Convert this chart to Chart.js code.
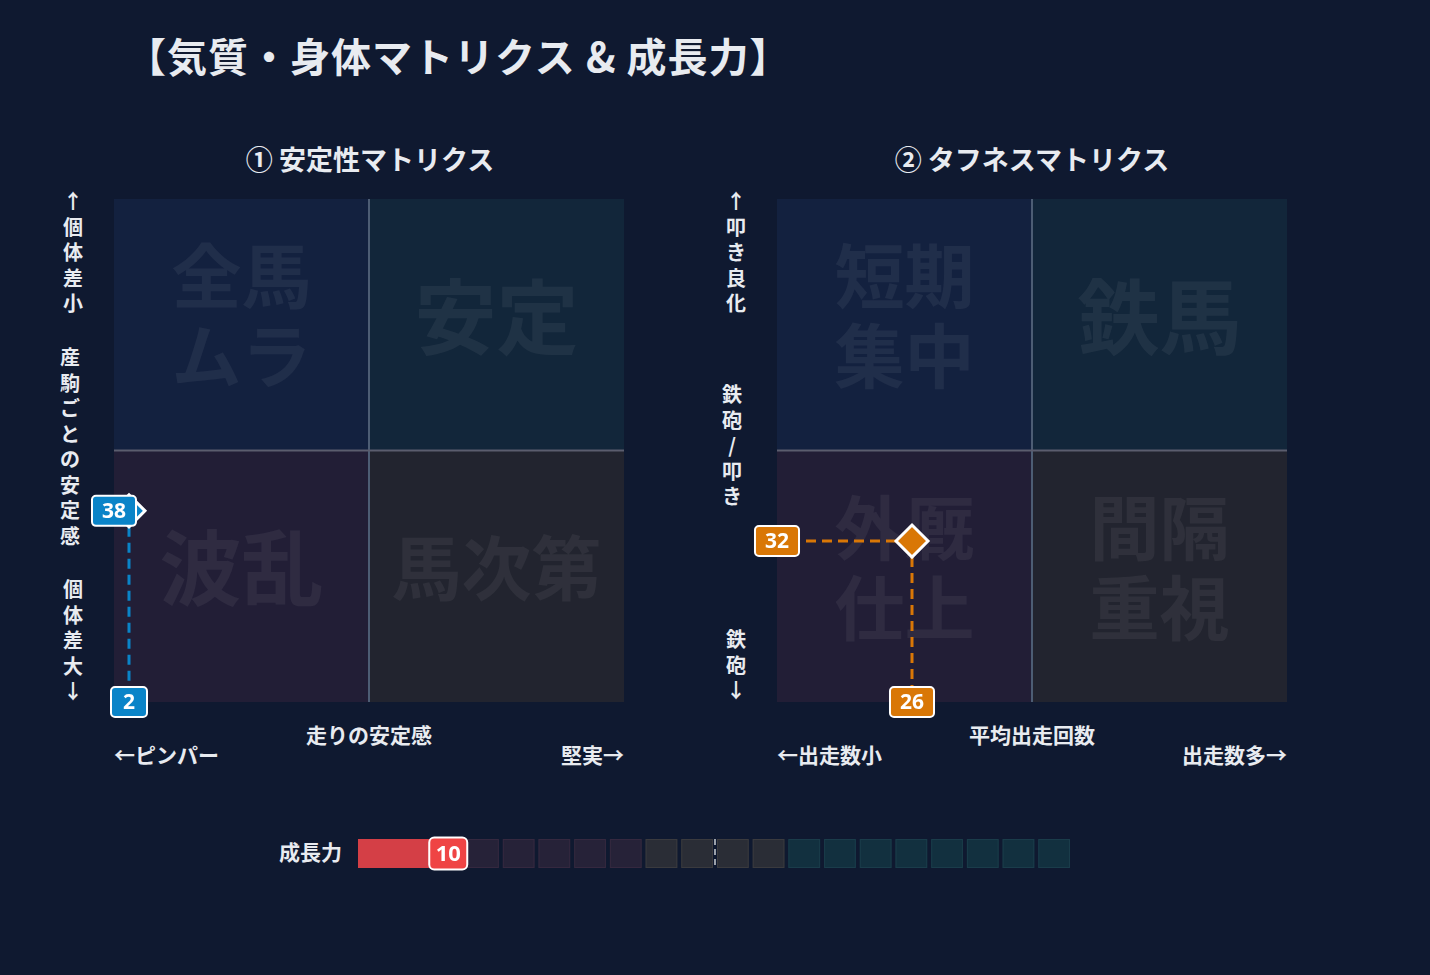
<!DOCTYPE html>
<html><head><meta charset="utf-8">
<script src="https://cdn.jsdelivr.net/npm/chart.js@4"></script>
<style>
body{margin:0;width:1430px;height:975px;background:#0f1930;font-family:"Noto Sans CJK JP","Noto Sans",sans-serif;color:#e8ebf0;position:relative;overflow:hidden}
.t{position:absolute;font-weight:700;white-space:nowrap}
.v{position:absolute;font-weight:700;font-size:20px;line-height:25.5px;text-align:center;width:30px}
canvas{position:absolute}
</style></head><body>
<div class="t" style="left:126px;top:26px;font-size:40px;letter-spacing:1px">【気質・身体マトリクス &amp; 成長力】</div>
<div class="t" style="left:370px;top:139px;font-size:27px;transform:translateX(-50%)">① 安定性マトリクス</div>
<div class="t" style="left:1032px;top:139px;font-size:27px;transform:translateX(-50%)">② タフネスマトリクス</div>
<div class="v" style="left:58px;top:188px">↑<br>個<br>体<br>差<br>小</div>
<div class="v" style="left:55px;top:344px">産<br>駒<br>ご<br>と<br>の<br>安<br>定<br>感</div>
<div class="v" style="left:58px;top:576px">個<br>体<br>差<br>大<br>↓</div>
<div class="v" style="left:721px;top:188px">↑<br>叩<br>き<br>良<br>化</div>
<div class="v" style="left:717px;top:381px">鉄<br>砲<br>/<br>叩<br>き</div>
<div class="v" style="left:721px;top:626px">鉄<br>砲<br>↓</div>
<div class="t" style="left:369px;top:719px;font-size:21px;transform:translateX(-50%)">走りの安定感</div>
<div class="t" style="left:114px;top:739px;font-size:21px">←ピンパー</div>
<div class="t" style="left:624px;top:739px;font-size:21px;transform:translateX(-100%)">堅実→</div>
<div class="t" style="left:1032px;top:719px;font-size:21px;transform:translateX(-50%)">平均出走回数</div>
<div class="t" style="left:777px;top:739px;font-size:21px">←出走数小</div>
<div class="t" style="left:1287px;top:739px;font-size:21px;transform:translateX(-100%)">出走数多→</div>
<div class="t" style="left:279px;top:836px;font-size:21px">成長力</div>
<canvas id="c1" width="600" height="560" style="left:60px;top:180px;width:600px;height:560px"></canvas>
<canvas id="c2" width="600" height="560" style="left:723px;top:180px;width:600px;height:560px"></canvas>
<canvas id="c3" width="760" height="60" style="left:340px;top:820px;width:760px;height:60px"></canvas>
<script>
const stabilityPoint = [2, 38];
const toughnessPoint = [26, 32];
const stabilityLabels = [["全馬","ムラ"],["安定"],["波乱"],["馬次第"]];
const toughnessLabels = [["短期","集中"],["鉄馬"],["外厩","仕上"],["間隔","重視"]];
const growthValue = 10;
const growthCellSize = 5;
const growthMarker = 50;

const quadColors=['#13213f','#12263a','#221e36','#22242f'];
function badge(ctx,x,y,text,color){
  ctx.font='bold 21px "Noto Sans","DejaVu Sans",sans-serif';
  const w=Math.max(36,ctx.measureText(text).width+20),h=30;
  ctx.fillStyle=color;ctx.strokeStyle='#fff';ctx.lineWidth=2;
  ctx.beginPath();ctx.roundRect(x-w/2,y-h/2,w,h,4);ctx.fill();ctx.stroke();
  ctx.fillStyle='#fff';ctx.textAlign='center';ctx.textBaseline='middle';ctx.fillText(text,x,y+1);
}
function matrix(id,pt,labels,color,hLine){
  const plug={id:'m',beforeDatasetsDraw(ch){
    const {ctx,chartArea:a,scales:{x,y}}=ch;
    const mx=(a.left+a.right)/2,my=y.getPixelForValue(50);
    ctx.save();
    const rects=[[a.left,a.top,mx,my],[mx,a.top,a.right,my],[a.left,my,mx,a.bottom],[mx,my,a.right,a.bottom]];
    rects.forEach((r,i)=>{ctx.fillStyle=quadColors[i];ctx.fillRect(r[0],r[1],r[2]-r[0],r[3]-r[1]);
      const L=labels[i];ctx.fillStyle='rgba(255,255,255,0.06)';
      const big=L.length===1&&L[0].length===2;
      ctx.font='bold '+(big?82:70)+'px "Noto Sans CJK JP"';
      ctx.textAlign='center';ctx.textBaseline='middle';
      const cx=(r[0]+r[2])/2,cy=(r[1]+r[3])/2-8;
      L.forEach((s,k)=>ctx.fillText(s,cx,cy+(k-(L.length-1)/2)*80));});
    ctx.lineWidth=2;ctx.strokeStyle='#4d5d74';ctx.beginPath();ctx.moveTo(mx,a.top);ctx.lineTo(mx,a.bottom);ctx.stroke();
    ctx.strokeStyle='#5b5d6e';ctx.beginPath();ctx.moveTo(a.left,my);ctx.lineTo(a.right,my);ctx.stroke();
    const px=x.getPixelForValue(pt[0]),py=y.getPixelForValue(pt[1]);
    ctx.setLineDash([10,6]);ctx.lineWidth=3;ctx.strokeStyle=color;
    ctx.beginPath();ctx.moveTo(px,py);ctx.lineTo(px,a.bottom);ctx.stroke();
    if(hLine){ctx.beginPath();ctx.moveTo(px,py);ctx.lineTo(a.left,py);ctx.stroke();}
    ctx.restore();
  },afterDatasetsDraw(ch){
    const {ctx,chartArea:a,scales:{x,y}}=ch;
    const px=x.getPixelForValue(pt[0]),py=y.getPixelForValue(pt[1]);
    ctx.save();
    badge(ctx,px,a.bottom,String(pt[0]),color);
    badge(ctx,hLine?a.left:px-15,py,String(pt[1]),color);
    ctx.restore();
  }};
  new Chart(document.getElementById(id),{type:'scatter',
    data:{datasets:[{data:[{x:pt[0],y:pt[1]}],pointStyle:'rectRot',pointRadius:16,pointBackgroundColor:color,pointBorderColor:'#fff',pointBorderWidth:3,clip:false}]},
    options:{responsive:false,animation:false,layout:{padding:{left:54,top:10,right:36,bottom:38}},
      plugins:{legend:{display:false},tooltip:{enabled:false}},
      scales:{x:{min:-1,max:101,display:false},y:{min:0,max:100,display:false}}},
    plugins:[plug]});
}
matrix('c1',stabilityPoint,stabilityLabels,'#0a84c8',false);
matrix('c2',toughnessPoint,toughnessLabels,'#d97706',true);

const cellColors=i=>i<8?['#262238','#35283f']:i<12?['#2a2d36','#3a3a3e']:['#12303f','#1a3c4a'];
new Chart(document.getElementById('c3'),{type:'bar',
  data:{labels:['成長力'],datasets:[{data:[growthValue],backgroundColor:'#d43f46',barPercentage:1,categoryPercentage:1}]},
  options:{indexAxis:'y',responsive:false,animation:false,layout:{padding:{left:18,right:28,top:19,bottom:12}},
    plugins:{legend:{display:false},tooltip:{enabled:false}},
    scales:{x:{min:0,max:100,display:false},y:{display:false}}},
  plugins:[{id:'g',beforeDatasetsDraw(ch){
    const {ctx,chartArea:a,scales:{x}}=ch;ctx.save();
    const n=100/growthCellSize;
    for(let i=0;i<n;i++){const v=i*growthCellSize;
      const x0=x.getPixelForValue(v),x1=x.getPixelForValue(v+growthCellSize);
      if(v<=growthValue){ctx.fillStyle=i%2?'#cf464b':'#d43f46';ctx.fillRect(x0,a.top,x1-x0,a.bottom-a.top);continue;}
      const c=cellColors(i);ctx.fillStyle=c[0];ctx.fillRect(x0+2,a.top,x1-x0-4,a.bottom-a.top);
      ctx.strokeStyle=c[1];ctx.lineWidth=1;ctx.strokeRect(x0+2.5,a.top+0.5,x1-x0-5,a.bottom-a.top-1);}
    const mx=x.getPixelForValue(growthMarker);ctx.strokeStyle='#9aa0aa';ctx.lineWidth=2;ctx.setLineDash([6,4]);
    ctx.beginPath();ctx.moveTo(mx,a.top);ctx.lineTo(mx,a.bottom);ctx.stroke();ctx.restore();
  },afterDatasetsDraw(ch){
    const {ctx,chartArea:a,scales:{x}}=ch;ctx.save();
    const gx=x.getPixelForValue(growthValue+growthCellSize/2)+1,cy=(a.top+a.bottom)/2;
    ctx.fillStyle='#ef4444';ctx.strokeStyle='#fff';ctx.lineWidth=2;
    ctx.beginPath();ctx.roundRect(gx-19,cy-16,38,32,5);ctx.fill();ctx.stroke();
    ctx.fillStyle='#fff';ctx.font='bold 22px "Noto Sans","DejaVu Sans"';ctx.textAlign='center';ctx.textBaseline='middle';
    ctx.fillText(String(growthValue),gx,cy+1);ctx.restore();
  }}]});
</script></body></html>
